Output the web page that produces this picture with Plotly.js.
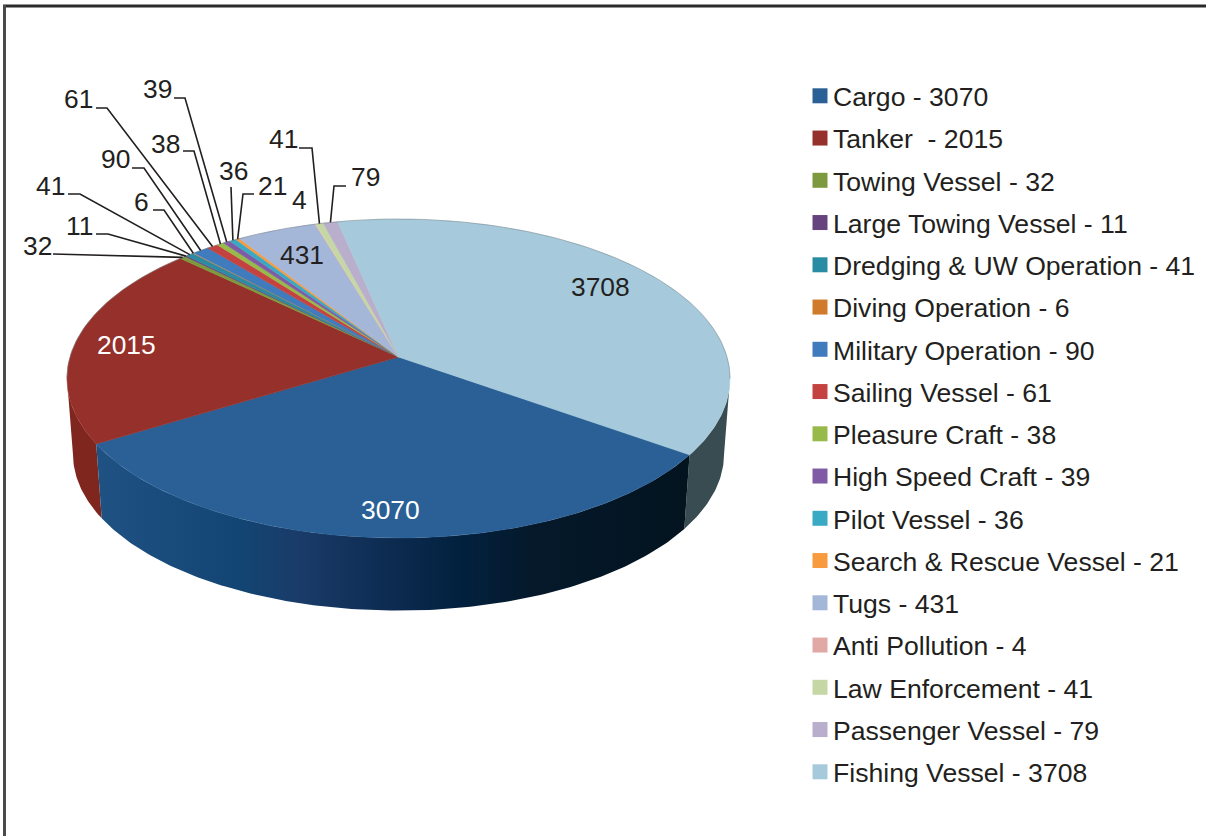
<!DOCTYPE html>
<html>
<head>
<meta charset="utf-8">
<script src="https://cdn.plot.ly/plotly-3.0.1.min.js"></script>
<style>html,body{margin:0;padding:0;background:#fff}#chart{width:1206px;height:836px}
.legend .legendsymbols{transform:translateX(7px)}</style>
</head>
<body>
<div id="chart"></div>
<script>
// ---- data ----
const categories = ["Cargo","Tanker\u00a0","Towing Vessel","Large Towing Vessel","Dredging & UW Operation","Diving Operation","Military Operation","Sailing Vessel","Pleasure Craft","High Speed Craft","Pilot Vessel","Search & Rescue Vessel","Tugs","Anti Pollution","Law Enforcement","Passenger Vessel","Fishing Vessel"];
const values = [3070,2015,32,11,41,6,90,61,38,39,36,21,431,4,41,79,3708];
const colors = ["#2b6096","#96302a","#7d9b3e","#64437f","#2a8ca4","#d07a2b","#3f7bbd","#c44340","#98ba4a","#7f5ba5","#3aa9c4","#f79b3e","#a5b7d8","#e0a9a6","#c6d7a6","#b9aecb","#a6cadb"];

// ---- label layout (pixels on the page) ----
const labelX = [390,126,37,79,50,141,115,78,165,157,233,272,302,299,283,365,600];
const labelY = [510,345,246,226,186,202,159,99,144,89,171,186,255,200,139,177,287];
const labelColor = ["#fff","#fff"];
const stubX  = [null,null,53,96,68,153,132,96,183,174,231,254,null,null,299,346,null];
const elbowX = [null,null,53,108,80,164,144,107,194,185,231,243,null,null,312,334,null];
const stubY  = [null,null,254,234,194,210,168,108,151,98,187,194,null,null,148,186,null];

// ---- pie projection ----
const apexX = 398.5, apexY = 357, A = 328.5, B = 156.6, K = 0.1348;
const startDeg = -35.2, vanishX = 398.5, vanishY = 4570, depth = 0.982;
const total = values.reduce((a,b)=>a+b,0);
function rim(deg){
  const t = deg*Math.PI/180, u = Math.cos(t), v = Math.sin(t), w = 1+K*v;
  return [apexX + A*u/w, apexY - B*v/w];
}
function base(p){ return [vanishX+depth*(p[0]-vanishX), vanishY+depth*(p[1]-vanishY)]; }
function arc(a,b){
  const n = Math.max(2, Math.ceil(Math.abs(a-b)/0.75)), out=[];
  for(let i=0;i<=n;i++) out.push(rim(a+(b-a)*i/n));
  return out;
}
const starts=[], ends=[];
let cum=0;
values.forEach(val=>{ starts.push(startDeg-360*cum/total); cum+=val; ends.push(startDeg-360*cum/total); });

const traces=[];
function wall(a,b,fill){
  const top=arc(a,b), bottom=top.map(base).reverse(), pts=top.concat(bottom);
  pts.push(pts[0]);
  const t={type:"scatter",mode:"lines",x:pts.map(p=>p[0]),y:pts.map(p=>p[1]),fill:"toself",
    line:{width:0},hoverinfo:"skip",showlegend:false};
  return Object.assign(t,fill);
}
const rightLimit=-7.75, leftLimit=-172.25;
const cargoStops=[[0,"#1f5283"],[0.237,"#124573"],[0.339,"#1a3b69"],[0.492,"#0d2b50"],[0.61,"#02213f"],[0.73,"#05192b"],[1,"#03141f"]];
traces.push(wall(rightLimit,starts[0],{fillcolor:"#384c52"}));
traces.push(wall(starts[1],leftLimit,{fillcolor:"#7f261f"}));
traces.push(wall(starts[0],ends[0],{fillcolor:"#0b2a4f",fillgradient:{type:"horizontal",colorscale:cargoStops,start:100,stop:690}}));

categories.forEach((c,i)=>{
  const pts=[[apexX,apexY]].concat(arc(starts[i],ends[i]));
  pts.push([apexX,apexY]);
  traces.push({type:"scatter",mode:"lines",x:pts.map(p=>p[0]),y:pts.map(p=>p[1]),fill:"toself",
    fillcolor:colors[i],line:{color:colors[i],width:0.5},hoverinfo:"skip",showlegend:false});
});
// thin outline on the far rim
const farArc=arc(-7.75,187.75);
traces.push({type:"scatter",mode:"lines",x:farArc.map(p=>p[0]),y:farArc.map(p=>p[1]),
  line:{color:"rgba(110,120,125,0.45)",width:1},hoverinfo:"skip",showlegend:false});

// leader lines
categories.forEach((c,i)=>{
  if(stubX[i]===null) return;
  const mid=(starts[i]+ends[i])/2, e=rim(mid);
  traces.push({type:"scatter",mode:"lines",x:[stubX[i],elbowX[i],e[0]],y:[stubY[i],stubY[i],e[1]],
    line:{color:"#231f20",width:1.6},hoverinfo:"skip",showlegend:false});
});
// legend entries
categories.forEach((c,i)=>{
  traces.push({type:"scatter",mode:"markers",x:[null],y:[null],name:c+" - "+values[i],legendgroup:"g"+i,
    marker:{symbol:"square",size:15,color:colors[i],line:{width:0}},hoverinfo:"skip"});
});

const annotations=categories.map((c,i)=>({x:labelX[i],y:labelY[i],xref:"x",yref:"y",text:String(values[i]),showarrow:false,
  font:{family:"Liberation Sans, Arial, sans-serif",size:26.4,color:labelColor[i]||"#231f20"},xanchor:"center",yanchor:"middle"}));

const layout={width:1206,height:836,margin:{l:0,r:0,t:0,b:0,pad:0},paper_bgcolor:"#fff",plot_bgcolor:"#fff",
  xaxis:{range:[0,1206],visible:false,fixedrange:true},
  yaxis:{range:[836,0],visible:false,fixedrange:true},
  showlegend:true,
  legend:{x:793/1206,y:1-72/836,xanchor:"left",yanchor:"top",bgcolor:"rgba(0,0,0,0)",borderwidth:0,
    font:{family:"Liberation Sans, Arial, sans-serif",size:26.6,color:"#231f20"},
    tracegroupgap:4.67,traceorder:"grouped",itemclick:false,itemdoubleclick:false},
  annotations,
  shapes:[
    {type:"line",xref:"x",yref:"y",x0:3,x1:1206,y0:6,y1:6,line:{color:"#2b2a2b",width:3}},
    {type:"line",xref:"x",yref:"y",x0:4.5,x1:4.5,y0:5,y1:836,line:{color:"#4a4a4a",width:3}}
  ]};
Plotly.newPlot("chart",traces,layout,{displayModeBar:false,responsive:false});
</script>
</body>
</html>
